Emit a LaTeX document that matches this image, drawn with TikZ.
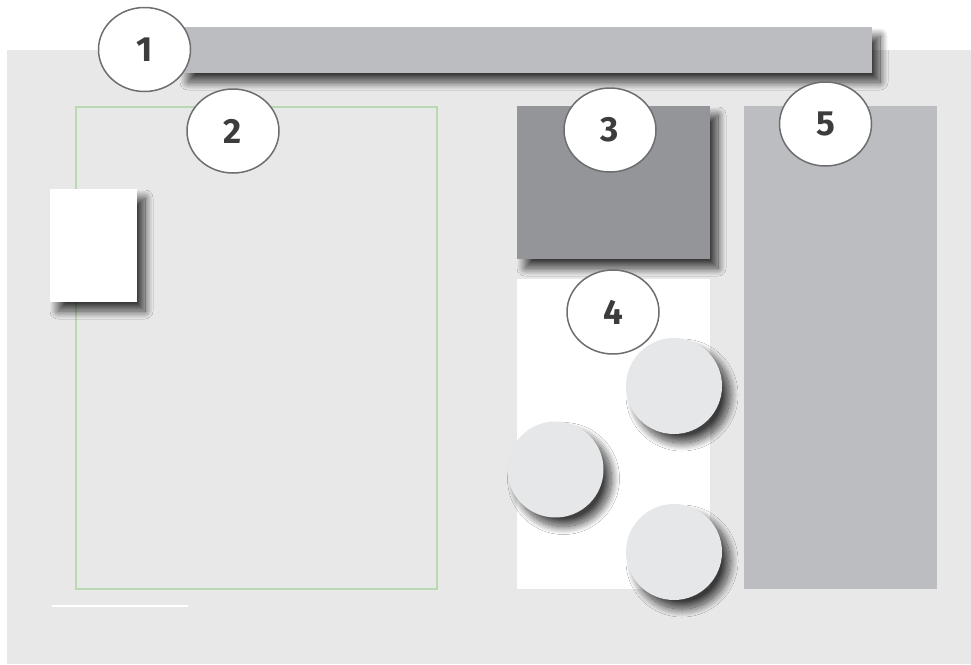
\documentclass[tikz,border=0pt]{standalone}
\usepackage{fontspec}
\setmainfont{Fira Sans}
\usetikzlibrary{shapes.geometric,shadows.blur}
\definecolor{pagegray}{HTML}{E8E8E8}
\definecolor{barblue}{HTML}{BCBDC1}
\definecolor{darkbox}{HTML}{939598}
\definecolor{dotgray}{HTML}{E6E7E8}
\definecolor{ringgray}{HTML}{6D6E71}
\definecolor{digitgray}{HTML}{3C3C3C}
\definecolor{framegreen}{HTML}{BBD9B1}
\tikzset{
  shadowed/.style={blur shadow={shadow xshift=8pt, shadow yshift=-9pt,
      shadow blur radius=8pt, shadow blur steps=20, shadow opacity=75}},
  plate/.style={anchor=north west, inner sep=0pt, outer sep=0pt},
  numbadge/.style={ellipse, draw=ringgray, line width=1.5pt, fill=white,
      minimum width=92pt, minimum height=84pt, inner sep=0pt, text=digitgray,
      font=\fontsize{35}{40}\selectfont\bfseries},
  token/.style={circle, fill=dotgray, minimum size=96pt, inner sep=0pt, shadowed}
}

\begin{document}
\begin{tikzpicture}[x=1pt, y=-1pt]
				%%%%% START %%%%%
				\useasboundingbox (0,0) rectangle (971,664);
				\fill[pagegray] (7,50) rectangle (971,664);

				\node[plate, fill=barblue, minimum width=692pt, minimum height=46pt, shadowed] (bar) at (180,27) {};
				\node[numbadge] (n1) at (144.5,49.5) {1};

				\node[plate, draw=framegreen, line width=1.5pt, minimum width=361pt, minimum height=482pt] (frame) at (76,107) {};
				\node[plate, fill=white, minimum width=87pt, minimum height=113pt, shadowed] (card) at (50,189) {};
				\node[numbadge] (n2) at (233,131) {2};
				\draw[white, line width=1.2pt] (52,606) -- (188,606);

				\node[plate, fill=darkbox, minimum width=193pt, minimum height=153pt, shadowed] (top) at (517,106) {};
				\node[numbadge] (n3) at (610,130) {3};

				\node[plate, fill=white, minimum width=193pt, minimum height=310pt] (tray) at (517,279) {};
				\node[numbadge] (n4) at (613,312) {4};
				\node[token] (t1) at (674,386) {};
				\node[token] (t2) at (555.5,469.5) {};
				\node[token] (t3) at (674,552) {};

				\node[plate, fill=barblue, minimum width=193pt, minimum height=483pt] (side) at (744,106) {};
				\node[numbadge] (n5) at (825.5,124) {5};
				%%%%% END %%%%%
\end{tikzpicture}
\end{document}
